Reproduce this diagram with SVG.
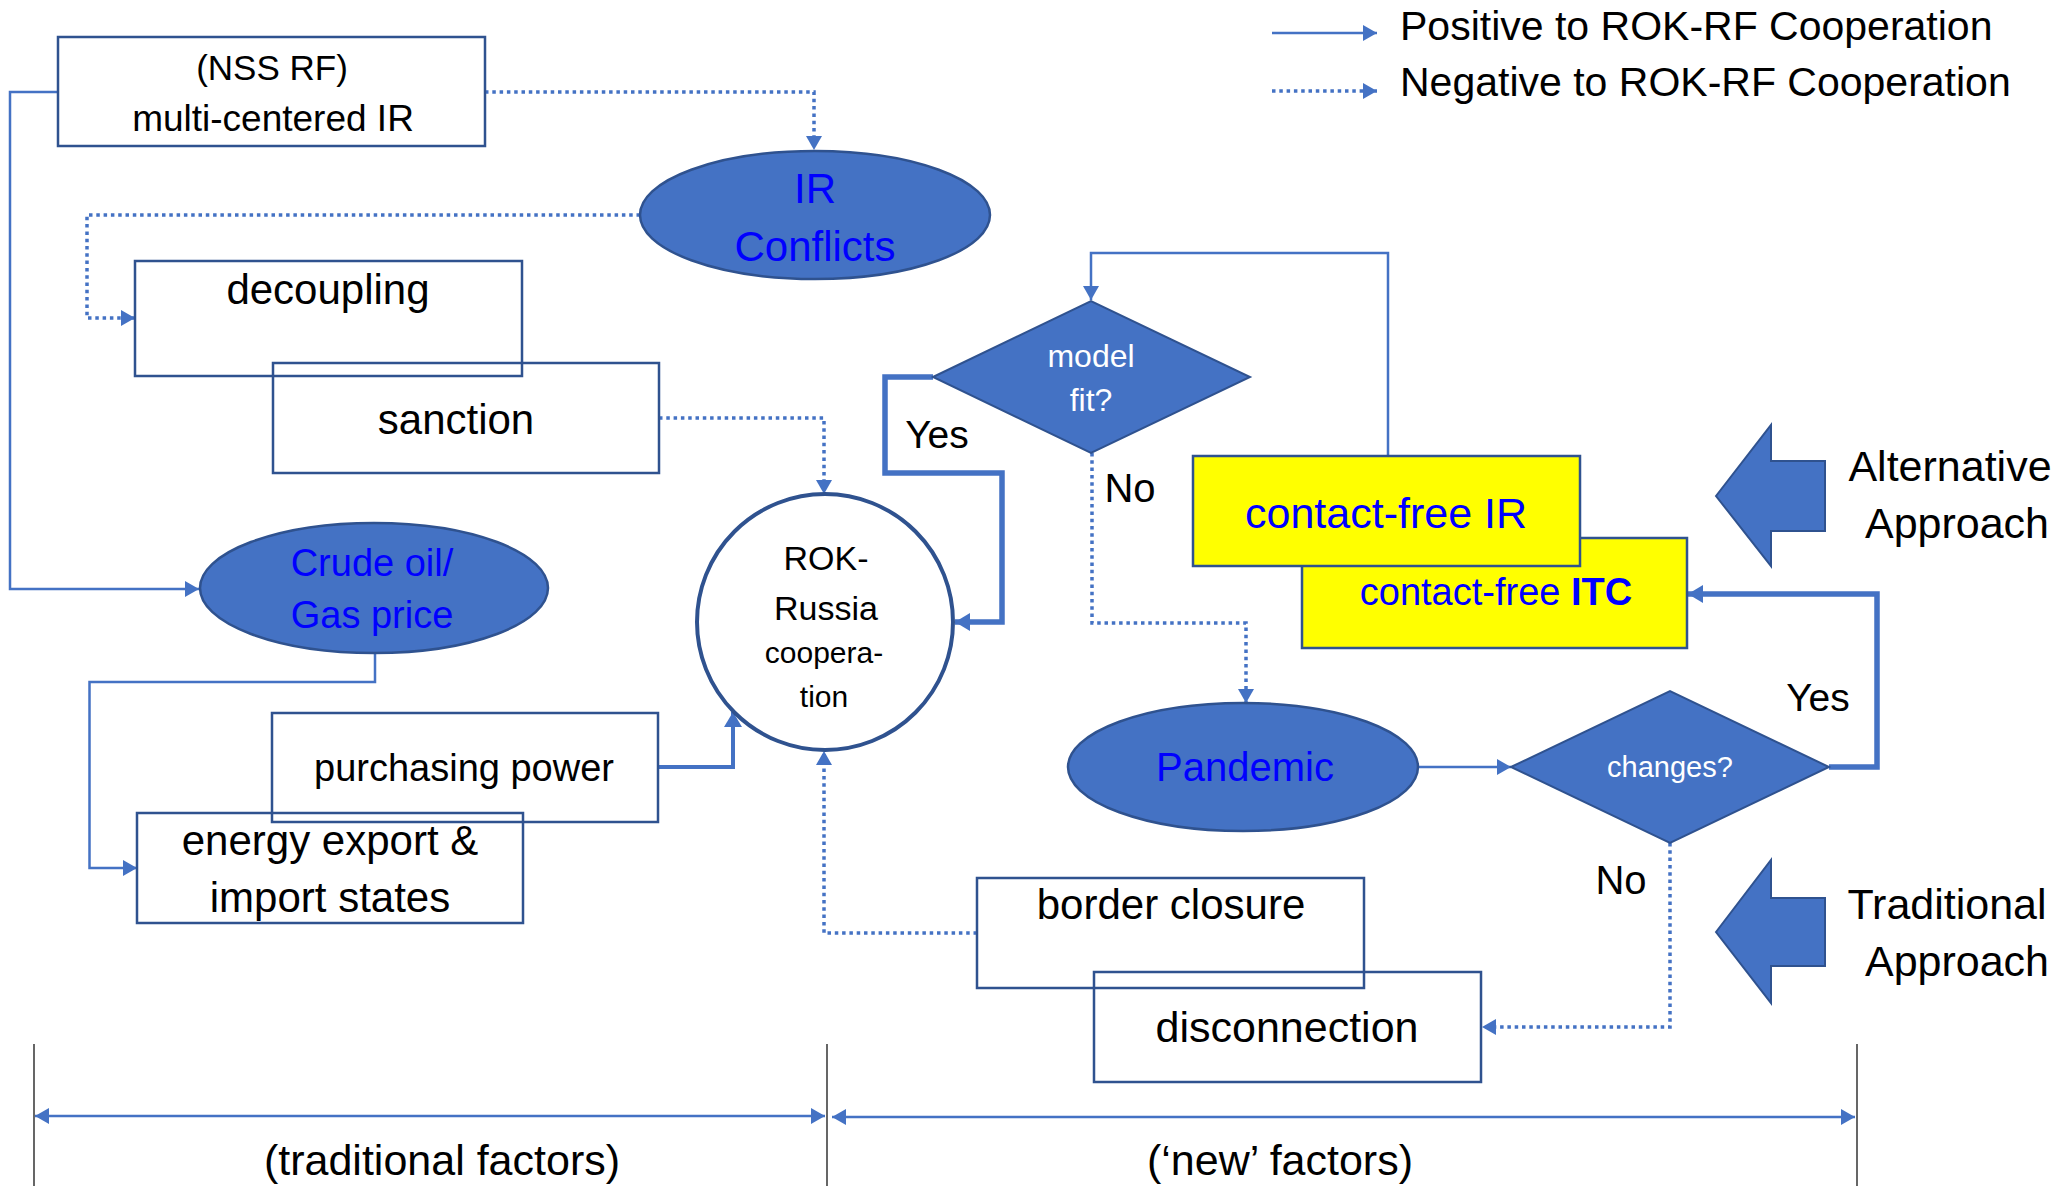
<svg xmlns="http://www.w3.org/2000/svg" width="2072" height="1186" viewBox="0 0 2072 1186">
<style>
text{font-family:"Liberation Sans",Arial,sans-serif;fill:#000;text-anchor:middle}
.box{fill:none;stroke:#2F528F;stroke-width:2.5}
.ybox{fill:#FFFF00;stroke:#2F528F;stroke-width:2.5}
.ell{fill:#4472C4;stroke:#2F528F;stroke-width:2.5}
.dia{fill:#4472C4;stroke:#2F528F;stroke-width:2}
.blk{fill:#4472C4;stroke:#2F528F;stroke-width:2}
.c{fill:none;stroke:#4472C4;stroke-width:2.5}
.dot{fill:none;stroke:#4472C4;stroke-width:3.5;stroke-dasharray:3.5 3.8}
.thick{fill:none;stroke:#4472C4;stroke-width:5.5}
.mid{fill:none;stroke:#4472C4;stroke-width:4}
.blue{fill:#0000FF}
.white{fill:#FFFFFF}
.vline{stroke:#000;stroke-width:1.2}
</style>
<defs>
<marker id="a" markerUnits="userSpaceOnUse" markerWidth="16" markerHeight="16" refX="14" refY="8" orient="auto-start-reverse"><path d="M0,0 L14,8 L0,16 z" fill="#4472C4"/></marker>
<marker id="at" markerUnits="userSpaceOnUse" markerWidth="18" markerHeight="18" refX="15" refY="9" orient="auto"><path d="M0,0 L15,9 L0,18 z" fill="#4472C4"/></marker>
</defs>

<g id="legend">
<path class="c" d="M1272,33 H1377" marker-end="url(#a)"/>
<path class="dot" d="M1272,91 H1377" marker-end="url(#a)"/>
<text x="1400" y="40" font-size="41" style="text-anchor:start">Positive to ROK-RF Cooperation</text>
<text x="1400" y="96" font-size="41" style="text-anchor:start">Negative to ROK-RF Cooperation</text>
</g>

<g id="connectors">
<path class="c" d="M58,92 H10 V589 H199" marker-end="url(#a)"/>
<path class="dot" d="M485,92 H814 V150" marker-end="url(#a)"/>
<path class="dot" d="M640,215 H87 V318 H135" marker-end="url(#a)"/>
<path class="dot" d="M659,418 H824 V494" marker-end="url(#a)"/>
<path class="c" d="M375,653 V682 H89.5 V868 H137" marker-end="url(#a)"/>
<path class="mid" d="M658,767 H733 V712" marker-end="url(#at)"/>
<path class="thick" d="M933,377 H885 V473 H1002 V622 H955" marker-end="url(#at)"/>
<path class="c" d="M1388,456 V253 H1091 V300" marker-end="url(#a)"/>
<path class="dot" d="M1092,453 V623 H1246 V703" marker-end="url(#a)"/>
<path class="c" d="M1418,767 H1511" marker-end="url(#a)"/>
<path class="thick" d="M1829,767 H1877 V594 H1688" marker-end="url(#at)"/>
<path class="dot" d="M1670,843 V1027 H1482" marker-end="url(#a)"/>
<path class="dot" d="M977,933 H824 V751" marker-end="url(#a)"/>
</g>

<g id="nss-rf">
<rect class="box" x="58" y="37" width="427" height="109"/>
<text x="272" y="80" font-size="35">(NSS RF)</text>
<text x="273" y="131" font-size="37">multi-centered IR</text>
</g>

<g id="ir-conflicts">
<ellipse class="ell" cx="815" cy="215" rx="175" ry="64"/>
<text class="blue" x="815" y="203" font-size="42">IR</text>
<text class="blue" x="815" y="261" font-size="42">Conflicts</text>
</g>

<g id="decoupling">
<rect class="box" x="135" y="261" width="387" height="115"/>
<text x="328" y="304" font-size="42">decoupling</text>
</g>

<g id="sanction">
<rect class="box" x="273" y="363" width="386" height="110"/>
<text x="456" y="434" font-size="42">sanction</text>
</g>

<g id="crude-oil">
<ellipse class="ell" cx="374" cy="588" rx="174" ry="65"/>
<text class="blue" x="372" y="576" font-size="38">Crude oil/</text>
<text class="blue" x="372" y="628" font-size="38">Gas price</text>
</g>

<g id="purchasing-power">
<rect class="box" x="272" y="713" width="386" height="109"/>
<text x="464" y="781" font-size="38">purchasing power</text>
</g>

<g id="energy">
<rect class="box" x="137" y="813" width="386" height="110"/>
<text x="330" y="855" font-size="42">energy export &amp;</text>
<text x="330" y="912" font-size="42">import states</text>
</g>

<g id="rok-russia">
<circle cx="825" cy="622" r="128" fill="#FFFFFF" stroke="#2F528F" stroke-width="4"/>
<text x="826" y="570" font-size="34">ROK-</text>
<text x="826" y="620" font-size="34">Russia</text>
<text x="824" y="663" font-size="30">coopera-</text>
<text x="824" y="707" font-size="30">tion</text>
</g>

<g id="model-fit">
<polygon class="dia" points="933,377 1091,301 1250,377 1091,453"/>
<text class="white" x="1091" y="367" font-size="32">model</text>
<text class="white" x="1091" y="411" font-size="32">fit?</text>
</g>

<g id="contact-free-itc">
<rect class="ybox" x="1302" y="538" width="385" height="110"/>
<text class="blue" x="1496" y="605" font-size="38">contact-free <tspan font-weight="bold">ITC</tspan></text>
</g>

<g id="contact-free-ir">
<rect class="ybox" x="1193" y="456" width="387" height="110"/>
<text class="blue" x="1386" y="528" font-size="43">contact-free IR</text>
</g>

<g id="pandemic">
<ellipse class="ell" cx="1243" cy="767" rx="175" ry="64"/>
<text class="blue" x="1245" y="781" font-size="40">Pandemic</text>
</g>

<g id="changes">
<polygon class="dia" points="1511,767 1670,691 1829,767 1670,843"/>
<text class="white" x="1670" y="777" font-size="29">changes?</text>
</g>

<g id="border-closure">
<rect class="box" x="977" y="878" width="387" height="110"/>
<text x="1171" y="919" font-size="42">border closure</text>
</g>

<g id="disconnection">
<rect class="box" x="1094" y="972" width="387" height="110"/>
<text x="1287" y="1042" font-size="43">disconnection</text>
</g>

<g id="labels">
<text x="937" y="448" font-size="39">Yes</text>
<text x="1130" y="502" font-size="40">No</text>
<text x="1818" y="711" font-size="39">Yes</text>
<text x="1621" y="894" font-size="40">No</text>
</g>

<g id="alternative-approach">
<polygon class="blk" points="1716,496 1771,425 1771,461 1825,461 1825,531 1771,531 1771,566"/>
<text x="1950" y="481" font-size="43">Alternative</text>
<text x="1957" y="538" font-size="43">Approach</text>
</g>

<g id="traditional-approach">
<polygon class="blk" points="1716,932 1771,860 1771,898 1825,898 1825,966 1771,966 1771,1003"/>
<text x="1947" y="919" font-size="43">Traditional</text>
<text x="1957" y="976" font-size="43">Approach</text>
</g>

<g id="scale">
<line class="vline" x1="34" y1="1044" x2="34" y2="1186"/>
<line class="vline" x1="827" y1="1044" x2="827" y2="1186"/>
<line class="vline" x1="1857" y1="1044" x2="1857" y2="1186"/>
<path class="c" d="M35,1116 H825" marker-start="url(#a)" marker-end="url(#a)"/>
<path class="c" d="M832,1117 H1855" marker-start="url(#a)" marker-end="url(#a)"/>
<text x="442" y="1175" font-size="43">(traditional factors)</text>
<text x="1280" y="1175" font-size="43">(‘new’ factors)</text>
</g>
</svg>
